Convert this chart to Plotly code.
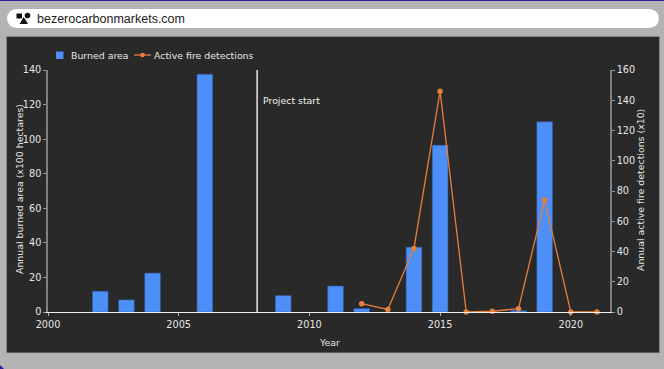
import plotly.graph_objects as go

years_bar = [2002, 2003, 2004, 2006, 2009, 2011, 2012, 2014, 2015, 2018, 2019]
burned_area = [12, 7, 22.5, 137.5, 9.5, 15, 2, 37.5, 96.5, 0.8, 110]
years_line = [2012, 2013, 2014, 2015, 2016, 2017, 2018, 2019, 2020, 2021]
fire_detections = [5.5, 1.7, 42, 146, 0, 0.5, 2.2, 74, 0, 0]
x_ticks = [2000, 2005, 2010, 2015, 2020]
project_start = 2008
site_label = "bezerocarbonmarkets.com"

W, H = 664, 369
L, R, T, B = 48, 610, 70, 312
BAR = "#4d8ef7"
LINE = "#e57f3d"
TXT = "#e6e6e6"


def px(x):
    return (x - L) / (R - L)


def py(y):
    return (B - y) / (B - T)


def rect(x0, y0, x1, y1, color, layer="below"):
    return dict(type="rect", xref="paper", yref="paper", x0=px(x0), x1=px(x1), y0=py(y0), y1=py(y1),
                fillcolor=color, line_width=0, layer=layer)


def circle(cx, cy, r, color, layer="below"):
    return dict(type="circle", xref="paper", yref="paper", x0=px(cx - r), x1=px(cx + r), y0=py(cy - r), y1=py(cy + r),
                fillcolor=color, line_width=0, layer=layer)


def tri(points, color):
    p = " L ".join(f"{px(a)} {py(b)}" for a, b in points)
    return dict(type="path", xref="paper", yref="paper", layer="below", fillcolor=color, line_width=0, path=f"M {p} Z")


def pill(x0, y0, x1, y1, color):
    r = (y1 - y0) / 2
    return [rect(x0 + r, y0, x1 - r, y1, color), circle(x0 + r, (y0 + y1) / 2, r, color),
            circle(x1 - r, (y0 + y1) / 2, r, color)]


def label(text, x, y, size=9.4, color=TXT, family="DejaVu Sans", xanchor="left", angle=0):
    return dict(text=text, xref="paper", yref="paper", x=px(x), y=py(y), xanchor=xanchor, yanchor="middle",
                showarrow=False, textangle=angle, font=dict(family=family, size=size, color=color),
                borderpad=0, borderwidth=0)


tick_font = dict(family="DejaVu Sans", size=9.7, color=TXT)

fig = go.Figure()
fig.add_trace(go.Bar(x=years_bar, y=burned_area, name="Burned area", width=0.6,
                     marker=dict(color=BAR, line=dict(color="#2f5fa8", width=0.5))))
fig.add_trace(go.Scatter(x=years_line, y=fire_detections, name="Active fire detections", yaxis="y2",
                         mode="lines+markers", cliponaxis=False,
                         line=dict(color=LINE, width=1.3), marker=dict(color=LINE, size=5.5)))

shapes = [rect(0, 0, W, H, "#b3b3b3"), rect(0, 0, W, 1, "#2a1fa0"),
          tri([(0, 365), (0, 369), (4, 369)], "#2a1fa0"),
          rect(6.5, 36.5, 659.5, 353, "#5a5a5a"), rect(7, 37, 659, 352, "#292929")]
shapes += pill(7, 9, 659, 28, "#ffffff")
shapes += [rect(16.5, 13.5, 22, 18.5, "#111111"), circle(27.5, 15.5, 2.8, "#111111"),
           tri([(19.5, 24), (28, 24), (23.7, 17)], "#111111")]
shapes.append(dict(type="line", xref="x", yref="paper", x0=project_start, x1=project_start, y0=0, y1=1,
                   line=dict(color="#e8e8e8", width=1.5)))
# legend
shapes += [rect(56, 51.5, 63.5, 59, BAR),
           dict(type="line", xref="paper", yref="paper", x0=px(134), x1=px(151), y0=py(55), y1=py(55),
                line=dict(color=LINE, width=1.3)),
           circle(142.5, 55, 2.3, LINE, layer="above")]

fig.update_layout(
    width=W, height=H, autosize=False,
    margin=dict(l=L, r=W - R, t=T, b=H - B, pad=0),
    paper_bgcolor="#b3b3b3", plot_bgcolor="rgba(0,0,0,0)",
    font=dict(family="DejaVu Sans", size=9.4, color=TXT),
    shapes=shapes,
    showlegend=False,
    xaxis=dict(range=[2000, 2021.5], tickvals=x_ticks, ticks="outside", ticklen=3, tickcolor="#b0b0b0",
               showgrid=False, zeroline=False, showline=True, linecolor="#f0f0f0", linewidth=1.2, automargin=False,
               tickfont=tick_font),
    yaxis=dict(range=[0, 140], dtick=20, ticks="outside", ticklen=3, tickcolor="#999999",
               showgrid=False, zeroline=False, showline=True, linecolor="#808080", linewidth=1.5, automargin=False,
               tickfont=tick_font),
    yaxis2=dict(range=[0, 160], dtick=20, overlaying="y", side="right", ticks="outside", ticklen=3, tickcolor="#999999",
                showgrid=False, zeroline=False, showline=True, linecolor="#808080", linewidth=1.5, automargin=False,
                tickfont=tick_font),
    annotations=[
        dict(text="Project start", xref="x", yref="paper", x=project_start, y=py(100.5), xanchor="left", yanchor="middle",
             xshift=4, showarrow=False, font=dict(size=9.4, color="#f0f0f0")),
        label(site_label, 37, 19, size=12.5, color="#222222", family="Liberation Sans"),
        label("Burned area", 71, 55),
        label("Active fire detections", 154, 55),
        label("Year", 329, 342, xanchor="center"),
        label("Annual burned area (x100 hectares)", 19, 189, xanchor="center", angle=-90),
        label("Annual active fire detections (x10)", 640, 190, xanchor="center", angle=-90),
    ],
)

fig.write_html("out.html", config=dict(displayModeBar=False),
               post_script="document.body.style.margin='0';document.body.style.background='#b3b3b3';")
